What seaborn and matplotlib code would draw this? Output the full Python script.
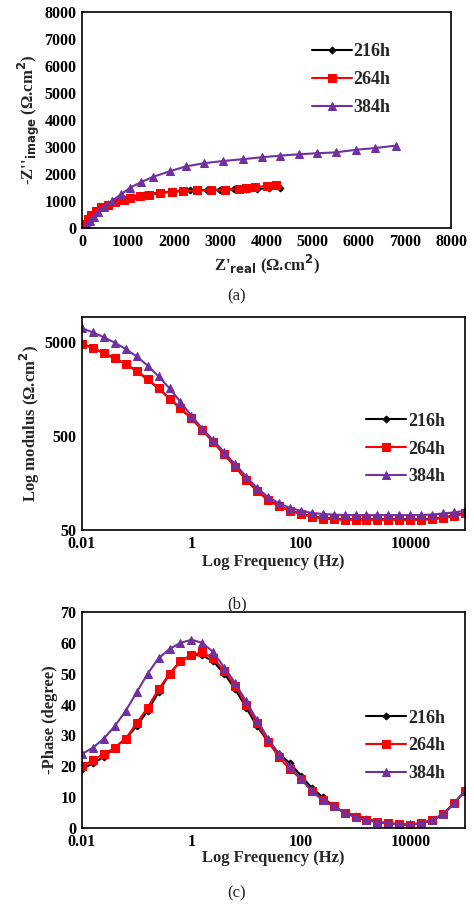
import numpy as np
import matplotlib
matplotlib.use("Agg")
import matplotlib.pyplot as plt
import seaborn as sns
import pandas as pd

sns.set_theme(style="white")
plt.rcParams['font.family'] = ['Liberation Serif', 'DejaVu Serif']
plt.rcParams['font.weight'] = 'bold'
plt.rcParams['axes.labelweight'] = 'bold'

series = ["216h", "264h", "384h"]
colors = {"216h": "black", "264h": "#ff0000", "384h": "#7030a0"}
markers = {"216h": "D", "264h": "s", "384h": "^"}
msize = {"216h": 3.5, "264h": 5.5, "384h": 6}

# Nyquist
zr_216 = [30, 60, 120, 200, 300, 420, 560, 720, 900, 1100, 1350, 1650, 2000, 2350, 2700, 3000, 3300, 3550, 3800, 4050, 4300]
zi_216 = [0, 150, 330, 480, 620, 760, 880, 990, 1080, 1160, 1240, 1300, 1360, 1390, 1410, 1420, 1430, 1440, 1450, 1470, 1490]
zr_264 = [30, 60, 120, 200, 300, 420, 560, 720, 900, 1050, 1250, 1450, 1700, 1950, 2200, 2500, 2800, 3100, 3400, 3550, 3750, 4000, 4200]
zi_264 = [0, 160, 340, 490, 630, 760, 870, 960, 1040, 1100, 1180, 1240, 1300, 1340, 1370, 1390, 1400, 1420, 1440, 1480, 1520, 1560, 1580]
zr_384 = [80, 110, 170, 250, 350, 480, 650, 850, 1050, 1280, 1550, 1900, 2250, 2650, 3050, 3500, 3900, 4300, 4700, 5100, 5500, 5950, 6350, 6800]
zi_384 = [0, 100, 250, 420, 600, 780, 1000, 1250, 1500, 1700, 1900, 2100, 2280, 2400, 2480, 2550, 2620, 2680, 2730, 2770, 2800, 2900, 2960, 3050]

# Bode (5 points per decade)
freq = [0.01, 0.0158, 0.0251, 0.0398, 0.0631, 0.1, 0.158, 0.251, 0.398, 0.631,
        1, 1.58, 2.51, 3.98, 6.31, 10, 15.8, 25.1, 39.8, 63.1,
        100, 158, 251, 398, 631, 1000, 1580, 2510, 3980, 6310,
        10000, 15800, 25100, 39800, 63100, 100000]
mod_216 = [4800, 4300, 3800, 3350, 2900, 2450, 2000, 1600, 1250, 980,
           770, 580, 430, 320, 235, 172, 130, 105, 90, 80,
           75, 70, 67, 66, 65, 65, 65, 65, 65, 65,
           65, 65, 66, 68, 71, 76]
mod_264 = [4800, 4300, 3800, 3350, 2900, 2450, 2000, 1600, 1250, 980,
           770, 580, 430, 320, 235, 172, 130, 105, 90, 80,
           74, 69, 66, 65, 64, 64, 64, 64, 64, 64,
           64, 64, 65, 67, 70, 75]
mod_384 = [7000, 6300, 5600, 4900, 4200, 3500, 2800, 2150, 1600, 1150,
           820, 600, 450, 335, 250, 185, 140, 112, 96, 86,
           80, 76, 74, 73, 72, 72, 72, 72, 72, 72,
           72, 72, 73, 75, 77, 80]
ph_216 = [19, 21, 23, 26, 29, 33, 38, 44, 50, 54,
          56, 56, 54, 50, 45, 39, 33, 28, 24, 21,
          17, 13, 10, 7, 5, 4, 3, 2, 1.5, 1.2,
          1.0, 1.5, 2.5, 4.5, 8, 12]
ph_264 = [20, 22, 24, 26, 29, 34, 39, 45, 50, 54,
          56, 57, 55, 51, 46, 40, 34, 28, 23, 19,
          16, 12, 9, 7, 5, 3.5, 2.5, 2, 1.5, 1.2,
          1.0, 1.5, 2.5, 4.5, 8, 12]
ph_384 = [24, 26, 29, 33, 38, 44, 50, 55, 58, 60,
          61, 60, 57, 52, 47, 41, 35, 29, 24, 20,
          16, 12, 9, 7, 5, 3.5, 2.5, 2, 1.5, 1.3,
          1.2, 1.6, 2.6, 4.5, 8, 12]

nyq = pd.concat([
    pd.DataFrame({"Zr": zr_216, "Zi": zi_216, "t": "216h"}),
    pd.DataFrame({"Zr": zr_264, "Zi": zi_264, "t": "264h"}),
    pd.DataFrame({"Zr": zr_384, "Zi": zi_384, "t": "384h"}),
])
bode = pd.concat([
    pd.DataFrame({"f": freq, "mod": mod_216, "ph": ph_216, "t": "216h"}),
    pd.DataFrame({"f": freq, "mod": mod_264, "ph": ph_264, "t": "264h"}),
    pd.DataFrame({"f": freq, "mod": mod_384, "ph": ph_384, "t": "384h"}),
])

W, H = 474, 906
fig = plt.figure(figsize=(W / 100, H / 100), dpi=100)

def rect(x0, y0, x1, y1):
    return [x0 / W, 1 - y1 / H, (x1 - x0) / W, (y1 - y0) / H]

axA = fig.add_axes(rect(82, 12, 451, 228))
axB = fig.add_axes(rect(82, 317, 465, 530))
axC = fig.add_axes(rect(82, 612, 465, 828))

def draw(ax, df, x, y):
    for s in series:
        d = df[df.t == s]
        sns.lineplot(data=d, x=x, y=y, ax=ax, color=colors[s], marker=markers[s],
                     markersize=msize[s], markeredgecolor=colors[s], linewidth=1.5,
                     label=s, sort=False, estimator=None)

draw(axA, nyq, "Zr", "Zi")
axA.set_xlim(0, 8000); axA.set_ylim(0, 8000)
axA.set_xticks(range(0, 8001, 1000)); axA.set_yticks(range(0, 8001, 1000))
axA.set_xlabel("Z'$_{\\mathbf{real}}$ (Ω.cm$^{\\mathbf{2}}$)", fontsize=12, labelpad=2)
axA.set_ylabel("-Z''$_{\\mathbf{image}}$ (Ω.cm$^{\\mathbf{2}}$)", fontsize=12, labelpad=2)
axA.legend(loc="upper right", bbox_to_anchor=(0.88, 0.93), frameon=False, fontsize=13,
           handlelength=2.2, handletextpad=0.1, labelspacing=0.6)

draw(axB, bode, "f", "mod")
axB.set_xscale("log"); axB.set_yscale("log")
axB.set_xlim(0.01, 100000); axB.set_ylim(50, 9200)
axB.set_xticks([0.01, 1, 100, 10000]); axB.set_xticklabels(["0.01", "1", "100", "10000"])
axB.set_yticks([50, 500, 5000]); axB.set_yticklabels(["50", "500", "5000"])
axB.minorticks_off()
axB.set_xlabel("Log Frequency (Hz)", fontsize=12, labelpad=2)
axB.set_ylabel("Log modulus (Ω.cm$^{\\mathbf{2}}$)", fontsize=12, labelpad=2)
axB.legend(loc="center right", bbox_to_anchor=(0.99, 0.38), frameon=False, fontsize=13,
           handlelength=2.2, handletextpad=0.1, labelspacing=0.6)

draw(axC, bode, "f", "ph")
axC.set_xscale("log")
axC.set_xlim(0.01, 100000); axC.set_ylim(0, 70)
axC.set_xticks([0.01, 1, 100, 10000]); axC.set_xticklabels(["0.01", "1", "100", "10000"])
axC.set_yticks(range(0, 71, 10))
axC.minorticks_off()
axC.set_xlabel("Log Frequency (Hz)", fontsize=12, labelpad=0)
axC.set_ylabel("-Phase (degree)", fontsize=12, labelpad=2)
axC.legend(loc="center right", bbox_to_anchor=(0.99, 0.38), frameon=False, fontsize=13,
           handlelength=2.2, handletextpad=0.1, labelspacing=0.6)

for ax in (axA, axB, axC):
    for sp in ax.spines.values():
        sp.set_color("black"); sp.set_linewidth(1.2)
    ax.tick_params(labelsize=11.5, length=0, pad=4, colors="black")
    for lab in ax.get_xticklabels() + ax.get_yticklabels():
        lab.set_fontweight("bold")

for lbl, y in (("(a)", 296), ("(b)", 604), ("(c)", 893)):
    fig.text(0.5, 1 - y / H, lbl, ha="center", va="center", fontsize=12, fontweight="normal")

fig.savefig("out.png", dpi=100, facecolor="white")
